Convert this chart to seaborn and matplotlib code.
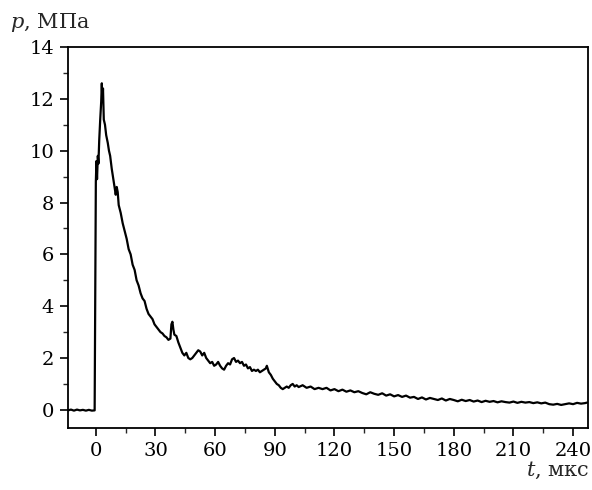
import matplotlib
matplotlib.use("Agg")
import matplotlib.pyplot as plt
import seaborn as sns
import pandas as pd
from matplotlib.ticker import MultipleLocator

t_us = [-14, -12.5, -11, -9.5, -8, -6.5, -5, -3.5, -2, -0.6,
        0.0, 0.3, 0.6, 1.0, 1.3, 1.7, 2.2, 2.7, 3.0, 3.3, 3.6, 4.0, 4.6, 5.2, 6.0, 6.6, 7.2,
        8.0, 8.6, 9.4, 10.0, 10.5, 11.0, 11.5, 12.5, 13.5, 14.5, 15.5, 16.5, 17.5, 18.5,
        19.5, 20.5, 21.5, 22.5, 23.5, 24.5, 25.5, 26.5, 27.5, 28.5, 29.5, 30.5, 31.5,
        32.5, 33.5, 34.5, 35.5, 36.5, 37.5, 38.0, 38.5, 39.0, 39.5, 40.5, 41.5, 42.5,
        43.5, 44.5, 45.5, 46.5, 47.5, 48.5, 49.5, 50.5, 51.5, 52.5, 53.5, 54.5, 55.5,
        56.5, 57.5, 58.5, 59.5, 60.5, 61.5, 62.5, 63.5, 64.5, 65.5, 66.5, 67.5, 68.5,
        69.5, 70.5, 71.5, 72.5, 73.5, 74.5, 75.5, 76.5, 77.5, 78.5, 79.5, 80.5, 81.5,
        82.5, 83.5, 84.5, 85.5, 86.0, 87, 88, 89, 90, 91, 92, 93, 94, 95, 96, 97, 98,
        99, 100, 101, 102, 104, 106, 108, 110, 112, 114, 116, 118, 120, 122, 124, 126,
        128, 130, 132, 134, 136, 138, 140, 142, 144, 146, 148, 150, 152, 154, 156, 158,
        160, 162, 164, 166, 168, 170, 172, 174, 176, 178, 180, 182, 184, 186, 188, 190,
        192, 194, 196, 198, 200, 202, 204, 206, 208, 210, 212, 214, 216, 218, 220, 222,
        224, 226, 228, 230, 232, 234, 236, 238, 240, 242, 244, 246, 247]

p_mpa = [-0.02, 0.01, -0.03, 0.01, -0.02, 0.0, -0.03, 0.0, -0.03, -0.02,
         8.8, 9.6, 8.9, 9.8, 9.5, 10.4, 11.2, 11.9, 12.6, 11.9, 12.4, 11.2, 11.0, 10.6, 10.3, 10.0, 9.8,
         9.3, 9.0, 8.6, 8.3, 8.6, 8.4, 7.9, 7.6, 7.2, 6.9, 6.6, 6.2, 6.0, 5.6,
         5.4, 5.0, 4.8, 4.5, 4.3, 4.2, 3.9, 3.7, 3.6, 3.5, 3.3, 3.2, 3.1,
         3.0, 2.95, 2.85, 2.8, 2.7, 2.75, 3.3, 3.4, 3.1, 2.9, 2.85, 2.6, 2.4,
         2.2, 2.1, 2.2, 2.0, 1.95, 2.0, 2.1, 2.2, 2.3, 2.25, 2.1, 2.2, 2.0,
         1.9, 1.8, 1.85, 1.7, 1.75, 1.85, 1.7, 1.6, 1.55, 1.7, 1.8, 1.75, 1.95,
         2.0, 1.85, 1.9, 1.8, 1.85, 1.7, 1.75, 1.6, 1.65, 1.5, 1.55, 1.5, 1.55,
         1.45, 1.5, 1.55, 1.6, 1.7, 1.45, 1.35, 1.2, 1.1, 1.0, 0.95, 0.85, 0.8, 0.85, 0.9, 0.85, 0.95,
         1.0, 0.9, 0.95, 0.88, 0.95, 0.85, 0.9, 0.8, 0.85, 0.8, 0.85, 0.75, 0.8, 0.72, 0.78, 0.7,
         0.75, 0.68, 0.72, 0.65, 0.6, 0.68, 0.62, 0.58, 0.64, 0.55, 0.6, 0.52, 0.57, 0.5, 0.55, 0.47,
         0.5, 0.42, 0.48, 0.4, 0.46, 0.42, 0.38, 0.44, 0.36, 0.42, 0.38, 0.33, 0.39, 0.34, 0.38, 0.32,
         0.36, 0.3, 0.35, 0.31, 0.34, 0.29, 0.33, 0.3, 0.28, 0.32, 0.27, 0.31, 0.28, 0.3, 0.26, 0.29,
         0.25, 0.28, 0.22, 0.2, 0.23, 0.19, 0.22, 0.25, 0.22, 0.27, 0.24, 0.26, 0.28]

x_ticks = [0, 30, 60, 90, 120, 150, 180, 210, 240]
y_ticks = [0, 2, 4, 6, 8, 10, 12, 14]

df = pd.DataFrame({"t": t_us, "p": p_mpa})

sns.set_theme(style="ticks")
plt.rcParams["font.family"] = ["DejaVu Serif"]
plt.rcParams["mathtext.fontset"] = "dejavuserif"

fig = plt.figure(figsize=(5.92, 4.90), dpi=100)
ax = fig.add_axes([68 / 592, 62 / 490, 520 / 592, 381 / 490])
sns.lineplot(data=df, x="t", y="p", color="black", linewidth=1.6,
             estimator=None, ax=ax)

ax.set_xlim(-14, 247.5)
ax.set_ylim(-0.7, 14)
ax.set_xticks(x_ticks)
ax.set_yticks(y_ticks)
ax.xaxis.set_minor_locator(MultipleLocator(15))
ax.yaxis.set_minor_locator(MultipleLocator(1))
ax.tick_params(which="major", direction="out", length=6, width=1.2,
               labelsize=14, colors="black", pad=4)
ax.tick_params(which="minor", direction="out", length=3.5, width=1.0)
for s in ax.spines.values():
    s.set_linewidth(1.3)
    s.set_color("black")
ax.set_xlabel("")
ax.set_ylabel("")

fig.text(10 / 592, 1 - 22 / 490, r"$p$, МПа", ha="left", va="center", fontsize=15)
fig.text(590 / 592, 1 - 470 / 490, r"$t$, мкс", ha="right", va="center", fontsize=15)

fig.savefig("out.png", dpi=100)
